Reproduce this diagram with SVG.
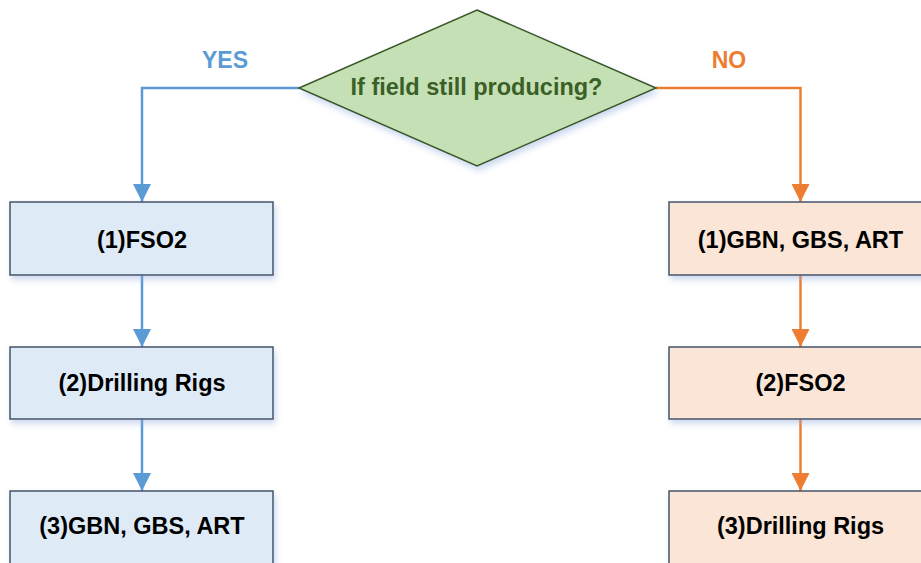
<svg xmlns="http://www.w3.org/2000/svg" width="921" height="563" viewBox="0 0 921 563">
  <defs>
    <filter id="shadow" x="-10%" y="-10%" width="125%" height="140%">
      <feDropShadow dx="2" dy="4" stdDeviation="3" flood-color="#8FAADC" flood-opacity="0.45"/>
    </filter>
    <marker id="arrowBlue" markerWidth="18" markerHeight="18" viewBox="0 0 18 18" refX="18" refY="9" orient="auto" markerUnits="userSpaceOnUse">
      <path d="M0,0 L18,9 L0,18 Z" fill="#5B9BD5"/>
    </marker>
    <marker id="arrowOrange" markerWidth="18" markerHeight="18" viewBox="0 0 18 18" refX="18" refY="9" orient="auto" markerUnits="userSpaceOnUse">
      <path d="M0,0 L18,9 L0,18 Z" fill="#ED7D31"/>
    </marker>
  </defs>
  <style>
    text { font-family: "Liberation Sans", Arial, sans-serif; font-weight: bold; text-anchor: middle; }
    .label { font-size: 23.5px; fill: #000000; }
    .decision { font-size: 23.5px; fill: #3A5F27; }
    .yes { font-size: 23px; fill: #5B9BD5; }
    .no { font-size: 23px; fill: #ED7D31; }
    .boxBlue { fill: #DEEBF7; stroke: #44546A; stroke-width: 1.5; filter: url(#shadow); }
    .boxOrange { fill: #FBE5D6; stroke: #44546A; stroke-width: 1.5; filter: url(#shadow); }
    .diamond { fill: #C5E0B4; stroke: #385723; stroke-width: 1.5; filter: url(#shadow); }
    .lineBlue { fill: none; stroke: #5B9BD5; stroke-width: 2.5; marker-end: url(#arrowBlue); }
    .lineOrange { fill: none; stroke: #ED7D31; stroke-width: 2.5; marker-end: url(#arrowOrange); }
  </style>

  <rect width="921" height="563" fill="#FFFFFF"/>

  <!-- connectors -->
  <g id="connectors">
    <path class="lineBlue" d="M299,88 H142 V202"/>
    <path class="lineBlue" d="M142,275 V347"/>
    <path class="lineBlue" d="M142,419 V491"/>
    <path class="lineOrange" d="M656,88 H800.5 V202"/>
    <path class="lineOrange" d="M800.5,275 V347"/>
    <path class="lineOrange" d="M800.5,419 V491"/>
    <text class="yes" x="225" y="67.5">YES</text>
    <text class="no" x="729" y="67.5">NO</text>
  </g>

  <!-- decision -->
  <g id="decision">
    <polygon class="diamond" points="477,10 656,88 477,166 299,88"/>
    <text class="decision" x="476.5" y="95">If field still producing?</text>
  </g>

  <!-- yes branch -->
  <g id="yes-1">
    <rect class="boxBlue" x="10" y="202" width="263" height="73"/>
    <text class="label" x="142" y="247.5">(1)FSO2</text>
  </g>
  <g id="yes-2">
    <rect class="boxBlue" x="10" y="347" width="263" height="72"/>
    <text class="label" x="142" y="391">(2)Drilling Rigs</text>
  </g>
  <g id="yes-3">
    <rect class="boxBlue" x="10" y="491" width="263" height="73"/>
    <text class="label" x="142" y="534">(3)GBN, GBS, ART</text>
  </g>

  <!-- no branch -->
  <g id="no-1">
    <rect class="boxOrange" x="669" y="202" width="263" height="73"/>
    <text class="label" x="800.5" y="247.5">(1)GBN, GBS, ART</text>
  </g>
  <g id="no-2">
    <rect class="boxOrange" x="669" y="347" width="263" height="72"/>
    <text class="label" x="800.5" y="391">(2)FSO2</text>
  </g>
  <g id="no-3">
    <rect class="boxOrange" x="669" y="491" width="263" height="73"/>
    <text class="label" x="800.5" y="534">(3)Drilling Rigs</text>
  </g>
</svg>
